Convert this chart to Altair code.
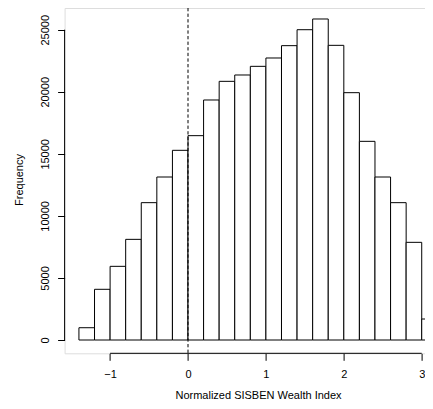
import altair as alt
import pandas as pd

bin_start = [-1.4, -1.2, -1.0, -0.8, -0.6, -0.4, -0.2, 0.0, 0.2, 0.4, 0.6, 0.8,
             1.0, 1.2, 1.4, 1.6, 1.8, 2.0, 2.2, 2.4, 2.6, 2.8, 3.0]
counts = [990, 4085, 5935, 8110, 11065, 13133, 15282, 16463, 19337, 20840, 21351, 22049,
          22721, 23714, 25000, 25863, 23741, 19927, 16007, 13133, 11065, 7869, 1692]
bin_width = 0.2
x_ticks = [-1, 0, 1, 2, 3]
y_ticks = [0, 5000, 10000, 15000, 20000, 25000]
vline_x = [0]

bars = pd.DataFrame({"start": bin_start, "count": counts})
bars["end"] = bars["start"] + bin_width

W, H = 360.4, 345.3
FONT = "Liberation Sans"

xs = alt.Scale(domain=[-1.584, 3.042], nice=False, zero=False)
ys = alt.Scale(domain=[-1071, 26749], nice=False, zero=False)

hist = alt.Chart(bars).mark_rect(fill="white", stroke="black", strokeWidth=1, clip=True).encode(
    x=alt.X("start:Q", scale=xs, axis=alt.Axis(
        values=x_ticks, format="d", domain=False, grid=False, tickSize=7, tickColor="black",
        labelFont=FONT, labelFontSize=11, labelColor="black", labelPadding=8,
        labelFlush=False, title="Normalized SISBEN Wealth Index", titleFont=FONT,
        titleFontSize=11, titleFontWeight="normal", titleColor="black",
        titleX=193.4, titleY=45.0, titleBaseline="alphabetic", titleAnchor="middle",
        titleAlign="center")),
    x2="end:Q",
    y=alt.Y("zero:Q", scale=ys, axis=alt.Axis(
        values=y_ticks, format="d", domain=False, grid=False, tickSize=7, tickColor="black",
        labelFont=FONT, labelFontSize=11, labelColor="black", labelAngle=-90,
        labelAlign="center", labelBaseline="alphabetic", labelPadding=9,
        labelFlush=False, title="Frequency", titleFont=FONT, titleFontSize=11,
        titleFontWeight="normal", titleColor="black", titleX=-42.5,
        titleY=171.5, titleBaseline="alphabetic", titleAngle=-90,
        titleAlign="center")),
    y2="count:Q",
).transform_calculate(zero="0")

xaxis_line = alt.Chart(pd.DataFrame({"a": [x_ticks[0]], "b": [x_ticks[-1]]})).mark_rule(
    color="black", strokeWidth=1).encode(x=alt.X("a:Q", scale=xs), x2="b:Q", y=alt.value(H))

yaxis_line = alt.Chart(pd.DataFrame({"a": [y_ticks[0]], "b": [y_ticks[-1]]})).mark_rule(
    color="black", strokeWidth=1).encode(y=alt.Y("a:Q", scale=ys), y2="b:Q", x=alt.value(0))

vline = alt.Chart(pd.DataFrame({"v": vline_x})).mark_rule(
    color="black", strokeWidth=1, strokeDash=[3.3, 2.3]).encode(
    x=alt.X("v:Q", scale=xs), y=alt.value(0), y2=alt.value(H))

chart = alt.layer(hist, vline, xaxis_line, yaxis_line).properties(
    width=W, height=H,
    autosize=alt.AutoSizeParams(type="none"),
    padding={"left": 56.6, "top": 0, "right": 0, "bottom": 47.7},
).configure_view(stroke=None).configure(background="white")

chart.save("out.html", embed_options={"renderer": "svg", "actions": False})
